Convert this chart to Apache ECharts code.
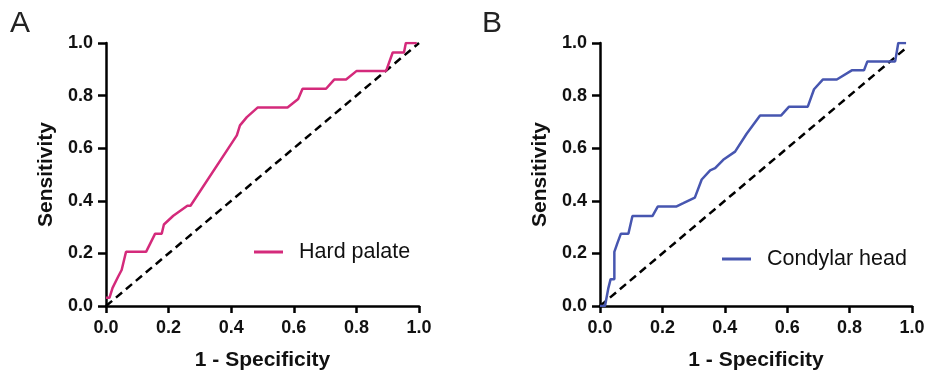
<!DOCTYPE html>
<html>
<head>
<meta charset="utf-8">
<script src="https://cdn.jsdelivr.net/npm/echarts@6/dist/echarts.min.js"></script>
<style>html,body{margin:0;padding:0;background:#fff}#c{width:930px;height:376px}</style>
</head>
<body>
<div id="c"></div>
<script>
const ticks = [0, 0.2, 0.4, 0.6, 0.8, 1.0];
const hardFpr = [0, 0.011, 0.021, 0.025, 0.039, 0.05, 0.064, 0.128, 0.157, 0.178, 0.185, 0.215, 0.26, 0.27, 0.418, 0.428, 0.45, 0.485, 0.58, 0.614, 0.628, 0.703, 0.729, 0.767, 0.801, 0.895, 0.916, 0.952, 0.958, 0.993];
const hardTpr = [0.031, 0.031, 0.069, 0.069, 0.112, 0.137, 0.206, 0.206, 0.275, 0.275, 0.31, 0.343, 0.381, 0.381, 0.649, 0.687, 0.718, 0.755, 0.755, 0.787, 0.826, 0.826, 0.861, 0.861, 0.894, 0.894, 0.964, 0.964, 1.0, 1.0];
const condFpr = [0, 0.016, 0.027, 0.03, 0.034, 0.046, 0.046, 0.056, 0.067, 0.091, 0.104, 0.168, 0.185, 0.244, 0.267, 0.304, 0.326, 0.353, 0.369, 0.395, 0.433, 0.47, 0.513, 0.58, 0.606, 0.666, 0.686, 0.69, 0.714, 0.759, 0.807, 0.846, 0.857, 0.946, 0.956, 0.981];
const condTpr = [0, 0, 0.069, 0.069, 0.102, 0.102, 0.206, 0.24, 0.275, 0.275, 0.342, 0.342, 0.378, 0.378, 0.391, 0.412, 0.481, 0.516, 0.524, 0.556, 0.587, 0.655, 0.724, 0.724, 0.758, 0.758, 0.824, 0.83, 0.861, 0.861, 0.896, 0.896, 0.93, 0.93, 1.0, 1.0];
const diagA = [[0, 0], [1, 1]];
const diagB = [[0, 0], [0.98, 0.98]];
const labelA = 'Hard palate';
const labelB = 'Condylar head';

const FONT = "'Liberation Sans', Arial, sans-serif";
const pink = '#d42a7b';
const blue = '#4756b0';

function zip(a, b) { return a.map((v, i) => [v, b[i]]); }

function xAx(gi) {
  return {
    gridIndex: gi, type: 'value', min: 0, max: 1, interval: 0.2,
    name: '1 - Specificity', nameLocation: 'middle', nameGap: 44,
    nameTextStyle: { fontFamily: FONT, fontWeight: 'bold', fontSize: 21, color: '#111' },
    axisLine: { show: true, lineStyle: { color: '#000', width: 2.5 } },
    axisTick: { show: true, length: 7, lineStyle: { color: '#000', width: 2.5 } },
    axisLabel: { fontFamily: FONT, fontWeight: 'bold', fontSize: 18, color: '#111', margin: 13,
      formatter: v => v.toFixed(1) },
    splitLine: { show: false }
  };
}
function yAx(gi) {
  return {
    gridIndex: gi, type: 'value', min: 0, max: 1, interval: 0.2,
    name: 'Sensitivity', nameLocation: 'middle', nameGap: 49,
    nameTextStyle: { fontFamily: FONT, fontWeight: 'bold', fontSize: 21, color: '#111' },
    axisLine: { show: true, lineStyle: { color: '#000', width: 2.5 } },
    axisTick: { show: true, length: 8, lineStyle: { color: '#000', width: 2.5 } },
    axisLabel: { fontFamily: FONT, fontWeight: 'bold', fontSize: 18, color: '#111', margin: 13,
      formatter: v => v.toFixed(1) },
    splitLine: { show: false }
  };
}
function dashed(xi, data) {
  return { type: 'line', xAxisIndex: xi, yAxisIndex: xi, data: data, symbol: 'none', silent: true,
    lineStyle: { color: '#000', width: 2.5, type: [8, 5] }, z: 1 };
}
function legend(name, left, top) {
  return { data: [name], left: left, top: top, padding: 0, icon: 'rect', itemWidth: 29, itemHeight: 3,
    textStyle: { fontFamily: FONT, fontSize: 21.5, color: '#111', padding: [0, 0, 0, 11] }, selectedMode: false };
}

const chart = echarts.init(document.getElementById('c'), null, { renderer: 'canvas' });
chart.setOption({
  backgroundColor: '#fff',
  animation: false,
  title: [
    { text: 'A', left: 10, top: 9, padding: 0, textStyle: { fontFamily: FONT, fontWeight: 'normal', fontSize: 30, color: '#222' } },
    { text: 'B', left: 482, top: 9, padding: 0, textStyle: { fontFamily: FONT, fontWeight: 'normal', fontSize: 30, color: '#222' } }
  ],
  legend: [legend(labelA, 254, 241), legend(labelB, 722, 248)],
  grid: [
    { left: 106, top: 43, width: 313, height: 267 },
    { left: 600, top: 43, width: 312, height: 267 }
  ],
  xAxis: [xAx(0), xAx(1)],
  yAxis: [yAx(0), yAx(1)],
  series: [
    dashed(0, diagA),
    dashed(1, diagB),
    { name: labelA, type: 'line', xAxisIndex: 0, yAxisIndex: 0, data: zip(hardFpr, hardTpr), symbol: 'none',
      color: pink, lineStyle: { color: pink, width: 2.5 }, z: 3 },
    { name: labelB, type: 'line', xAxisIndex: 1, yAxisIndex: 1, data: zip(condFpr, condTpr), symbol: 'none',
      color: blue, lineStyle: { color: blue, width: 2.5 }, z: 3 }
  ]
});
</script>
</body>
</html>
